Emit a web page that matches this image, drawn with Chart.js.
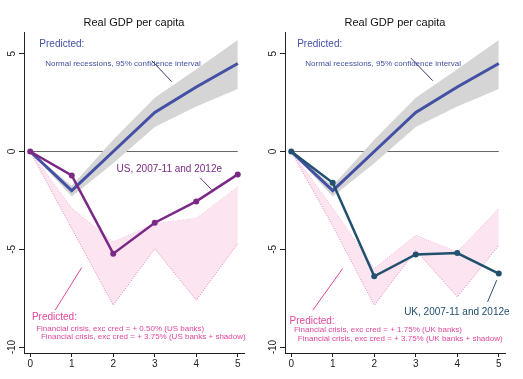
<!DOCTYPE html>
<html lang="en">
<head>
<meta charset="UTF-8">
<title>Real GDP per capita</title>
<script src="https://cdn.jsdelivr.net/npm/chart.js"></script>
<style>
  body { margin: 0; background: #fff; }
  .panel { position: absolute; top: 0; height: 379px; }
  #left { left: 0; width: 261px; }
  #right { left: 261px; width: 262px; }
</style>
</head>
<body>
<div class="panel" id="left"><canvas id="usChart"></canvas></div>
<div class="panel" id="right"><canvas id="ukChart"></canvas></div>
<script>
// years since the start of the recession
const years = [0, 1, 2, 3, 4, 5];
const xTicks = [0, 1, 2, 3, 4, 5];
const yTicks = [-10, -5, 0, 5];

// normal recessions: mean path and 95% band
const normalMean  = [0, -2.0, 0.0, 2.0, 3.3, 4.5];
const normalUpper = [0, -1.75, 0.6, 2.75, 4.2, 5.7];
const normalLower = [0, -2.3, -0.6, 1.25, 2.3, 3.2];

// US
const usActual = [0, -1.22, -5.22, -3.64, -2.55, -1.17];
const usBanks  = [0, -2.9, -4.63, -3.69, -3.43, -1.82];
const usShadow = [0, -3.93, -7.86, -4.97, -7.6, -4.71];

// UK
const ukActual = [0, -1.6, -6.38, -5.26, -5.19, -6.24];
const ukBanks  = [0, -2.9, -5.99, -4.29, -5.14, -2.92];
const ukShadow = [0, -3.8, -7.86, -5.05, -7.43, -4.8];

const FONT = '"Liberation Sans", Arial, Helvetica, sans-serif';
const BLUE = '#4350a3';
const PINK = '#e0479b';
const PINK_LINE = '#e884b8';

Chart.defaults.font.family = FONT;

function pts(values) {
  return years.map((x, i) => ({ x: x, y: values[i] }));
}

// text labels and leader lines, placed in data units
const notesPlugin = {
  id: 'notes',
  afterDatasetsDraw(chart, args, opts) {
    const ctx = chart.ctx;
    const x = chart.scales.x, y = chart.scales.y;
    ctx.save();
    (opts.lines || []).forEach(l => {
      ctx.strokeStyle = l.color;
      ctx.lineWidth = 1;
      ctx.beginPath();
      ctx.moveTo(x.getPixelForValue(l.from[0]), y.getPixelForValue(l.from[1]));
      ctx.lineTo(x.getPixelForValue(l.to[0]), y.getPixelForValue(l.to[1]));
      ctx.stroke();
    });
    (opts.texts || []).forEach(t => {
      ctx.font = t.size + 'px ' + FONT;
      ctx.fillStyle = t.color;
      ctx.textAlign = 'left';
      ctx.textBaseline = 'middle';
      ctx.fillText(t.text, x.getPixelForValue(t.at[0]), y.getPixelForValue(t.at[1]));
    });
    ctx.restore();
  }
};

function makeChart(id, actual, actualColor, banks, shadow, padRight, notes) {
  const ctx = document.getElementById(id).getContext('2d');
  return new Chart(ctx, {
    type: 'line',
    data: {
      datasets: [
        { data: [{ x: 0, y: 0 }, { x: 5, y: 0 }], borderColor: '#666', borderWidth: 1, pointRadius: 0, order: 10 },
        { data: pts(normalUpper), borderWidth: 0, pointRadius: 0, order: 9 },
        { data: pts(normalLower), borderWidth: 0, pointRadius: 0, fill: '-1', backgroundColor: '#d5d5d5', order: 8 },
        { data: pts(banks), borderColor: PINK_LINE, borderWidth: 1, borderDash: [1, 1.5], pointRadius: 0, order: 7 },
        { data: pts(shadow), borderColor: PINK_LINE, borderWidth: 1, borderDash: [1, 1.5], pointRadius: 0,
          fill: '-1', backgroundColor: '#fce4f0', order: 6 },
        { data: pts(normalMean), borderColor: BLUE, borderWidth: 3, pointRadius: 0, order: 5 },
        { data: pts(actual), borderColor: actualColor, borderWidth: 2.5, pointRadius: 3,
          pointBackgroundColor: actualColor, pointBorderWidth: 0, order: 1 }
      ]
    },
    plugins: [notesPlugin],
    options: {
      responsive: true,
      maintainAspectRatio: false,
      animation: false,
      layout: { padding: { right: padRight } },
      elements: { line: { tension: 0, fill: false } },
      plugins: {
        legend: { display: false },
        tooltip: { enabled: false },
        title: {
          display: true,
          text: 'Real GDP per capita',
          fullSize: false,
          color: '#111',
          font: { size: 11, weight: 'normal' },
          padding: { top: 16, bottom: 3 }
        },
        notes: notes
      },
      scales: {
        x: {
          type: 'linear', min: -0.15, max: 5.15,
          afterBuildTicks: s => { s.ticks = xTicks.map(v => ({ value: v })); },
          afterFit: s => { s.height = 26; },
          grid: { drawOnChartArea: false, tickLength: 4, color: '#222' },
          border: { color: '#222', width: 1 },
          ticks: { color: '#222', font: { size: 10 }, padding: 1, maxRotation: 0 }
        },
        y: {
          min: -10.3, max: 6.1,
          afterBuildTicks: s => { s.ticks = yTicks.map(v => ({ value: v })); },
          afterFit: s => { s.width = 24; },
          grid: { drawOnChartArea: false, tickLength: 5, color: '#222' },
          border: { color: '#222', width: 1 },
          ticks: { color: '#222', font: { size: 10 }, padding: 0, minRotation: 90, maxRotation: 90, crossAlign: 'center' }
        }
      }
    }
  });
}

makeChart('usChart', usActual, '#7a2a86', usBanks, usShadow, 17, {
  texts: [
    { text: 'Predicted:', at: [0.22, 5.5], size: 10, color: BLUE },
    { text: 'Normal recessions, 95% confidence interval', at: [0.36, 4.49], size: 8, color: BLUE },
    { text: 'US, 2007-11 and 2012e', at: [2.08, -0.92], size: 10, color: '#7a2a86' },
    { text: 'Predicted:', at: [0.04, -8.45], size: 10, color: PINK },
    { text: 'Financial crisis, exc cred = + 0.50% (US banks)', at: [0.144, -9.05], size: 8, color: PINK },
    { text: 'Financial crisis, exc cred = + 3.75% (US banks + shadow)', at: [0.257, -9.47], size: 8, color: PINK }
  ],
  lines: [
    { from: [2.93, 4.64], to: [3.41, 3.57], color: '#333a6e' },
    { from: [4.09, -1.34], to: [4.37, -1.95], color: '#7a2a86' },
    { from: [0.6, -8.11], to: [1.24, -5.93], color: PINK }
  ]
});

makeChart('ukChart', ukActual, '#22506f', ukBanks, ukShadow, 18, {
  texts: [
    { text: 'Predicted:', at: [0.144, 5.5], size: 10, color: BLUE },
    { text: 'Normal recessions, 95% confidence interval', at: [0.34, 4.49], size: 8, color: BLUE },
    { text: 'UK, 2007-11 and 2012e', at: [2.72, -8.2], size: 10, color: '#22506f' },
    { text: 'Predicted:', at: [-0.04, -8.66], size: 10, color: PINK },
    { text: 'Financial crisis, exc cred = + 1.75% (UK banks)', at: [0.065, -9.13], size: 8, color: PINK },
    { text: 'Financial crisis, exc cred = + 3.75% (UK banks + shadow)', at: [0.16, -9.56], size: 8, color: PINK }
  ],
  lines: [
    { from: [2.88, 4.78], to: [3.41, 3.62], color: '#333a6e' },
    { from: [4.73, -7.69], to: [4.95, -6.58], color: '#22506f' },
    { from: [0.52, -8.11], to: [1.24, -5.98], color: PINK }
  ]
});
</script>
</body>
</html>
